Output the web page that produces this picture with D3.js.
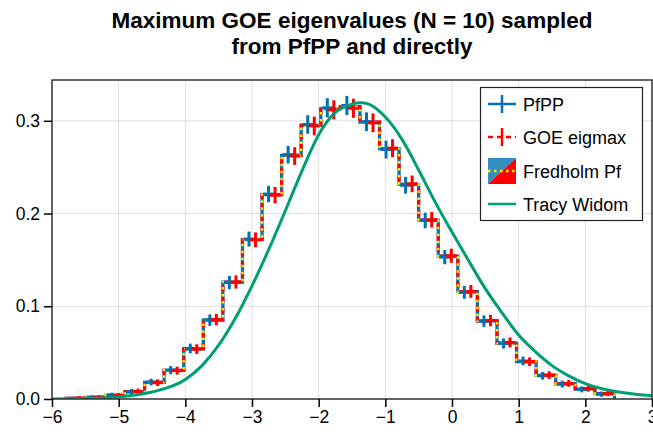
<!DOCTYPE html>
<html>
<head>
<meta charset="utf-8">
<script src="https://cdn.jsdelivr.net/npm/d3@7"></script>
<style>
  html, body { margin: 0; padding: 0; background: #fff; }
  svg { display: block; font-family: "Liberation Sans", Arial, sans-serif; }
</style>
</head>
<body>
<svg id="chart" width="653" height="438"></svg>
<script>
// ---------------- data ----------------
const titleLines = ["Maximum GOE eigenvalues (N = 10) sampled", "from PfPP and directly"];
const xTicks = [-6, -5, -4, -3, -2, -1, 0, 1, 2, 3];
const yTicks = [0.0, 0.1, 0.2, 0.3];

// histogram bin edges
const binEdges = [-5.786, -5.492, -5.199, -4.905, -4.611, -4.318, -4.024, -3.730, -3.437, -3.143,
  -2.849, -2.556, -2.262, -1.968, -1.675, -1.381, -1.087, -0.794, -0.500, -0.206,
  0.087, 0.381, 0.675, 0.968, 1.262, 1.556, 1.849, 2.143, 2.437];

// Fredholm Pfaffian (step)
const fredholm = [0.0008, 0.0018, 0.0040, 0.0080, 0.0179, 0.0310, 0.0540, 0.0853, 0.1260, 0.1720,
  0.2204, 0.2627, 0.2950, 0.3130, 0.3150, 0.2985, 0.2700, 0.2315, 0.1928, 0.1540,
  0.1157, 0.0842, 0.0602, 0.0404, 0.0254, 0.0165, 0.0108, 0.0057];

// PfPP samples
const pfpp = [0.0006, 0.0016, 0.0042, 0.0078, 0.0182, 0.0312, 0.0545, 0.0850, 0.1255, 0.1725,
  0.2210, 0.2635, 0.2960, 0.3140, 0.3165, 0.2990, 0.2690, 0.2305, 0.1925, 0.1530,
  0.1150, 0.0840, 0.0598, 0.0410, 0.0250, 0.0160, 0.0104, 0.0052];
const pfppErr = [0.0004, 0.0007, 0.0010, 0.0014, 0.0020, 0.0027, 0.0036, 0.0045, 0.0055, 0.0064,
  0.0072, 0.0079, 0.0084, 0.0087, 0.0087, 0.0085, 0.0080, 0.0074, 0.0068, 0.0060,
  0.0053, 0.0045, 0.0038, 0.0031, 0.0025, 0.0020, 0.0016, 0.0012];

// GOE eigmax direct samples
const goe = [0.0010, 0.0020, 0.0038, 0.0082, 0.0176, 0.0306, 0.0538, 0.0856, 0.1262, 0.1716,
  0.2198, 0.2620, 0.2945, 0.3118, 0.3135, 0.2978, 0.2705, 0.2320, 0.1932, 0.1545,
  0.1160, 0.0846, 0.0610, 0.0402, 0.0258, 0.0168, 0.0112, 0.0060];
const goeErr = [0.0004, 0.0007, 0.0010, 0.0014, 0.0020, 0.0027, 0.0036, 0.0045, 0.0055, 0.0064,
  0.0072, 0.0079, 0.0084, 0.0087, 0.0087, 0.0085, 0.0080, 0.0074, 0.0068, 0.0060,
  0.0053, 0.0045, 0.0038, 0.0031, 0.0025, 0.0020, 0.0016, 0.0012];

// Tracy-Widom (beta = 1) density
const twX = [-6.0, -5.5, -5.0, -4.5, -4.0, -3.75, -3.5, -3.25, -3.0, -2.75, -2.5, -2.25, -2.0, -1.75,
  -1.5, -1.375, -1.25, -1.0, -0.75, -0.5, -0.25, 0.0, 0.25, 0.5, 0.75, 1.0, 1.25, 1.5, 1.75,
  2.0, 2.25, 2.5, 2.75, 3.0];
const twY = [0.0001, 0.0005, 0.0022, 0.0075, 0.021, 0.036, 0.058, 0.087, 0.122, 0.161, 0.203, 0.246,
  0.285, 0.309, 0.318, 0.3195, 0.318, 0.304, 0.280, 0.247, 0.212, 0.180, 0.149, 0.119, 0.093,
  0.069, 0.051, 0.036, 0.025, 0.0165, 0.011, 0.0075, 0.0052, 0.0036];

const legendLabels = ["PfPP", "GOE eigmax", "Fredholm Pf", "Tracy Widom"];

// ---------------- colors ----------------
const cBlue = "#0072B2", cRed = "#FF0000", cYellow = "#FFEE00", cGreen = "#009E73";

// ---------------- layout ----------------
const svg = d3.select("#chart");
const L = 52, R = 652, T = 80, B = 399;
const x = d3.scaleLinear().domain([-6, 3]).range([L, R]);
const y = d3.scaleLinear().domain([0, 0.344]).range([B, T]);

// title
svg.selectAll("text.title").data(titleLines).join("text")
  .attr("class", "title")
  .attr("x", (L + R) / 2).attr("y", (d, i) => 28 + i * 26)
  .attr("text-anchor", "middle")
  .attr("font-size", 22.5).attr("font-weight", "bold").attr("fill", "#000")
  .text(d => d);

// grid
const grid = svg.append("g");
grid.selectAll("line.gx").data(xTicks).join("line")
  .attr("x1", d => x(d)).attr("x2", d => x(d)).attr("y1", T).attr("y2", B)
  .attr("stroke", "#000").attr("stroke-opacity", 0.12).attr("stroke-width", 1);
grid.selectAll("line.gy").data(yTicks).join("line")
  .attr("y1", d => y(d)).attr("y2", d => y(d)).attr("x1", L).attr("x2", R)
  .attr("stroke", "#000").attr("stroke-opacity", 0.12).attr("stroke-width", 1);

// clip
svg.append("clipPath").attr("id", "clip").append("rect")
  .attr("x", L).attr("y", T).attr("width", R - L).attr("height", B - T);
const plot = svg.append("g").attr("clip-path", "url(#clip)");

// step path builder
function stepPoints(vals) {
  const pts = [[binEdges[0], 0]];
  vals.forEach((v, i) => { pts.push([binEdges[i], v]); pts.push([binEdges[i + 1], v]); });
  pts.push([binEdges[binEdges.length - 1], 0]);
  return pts;
}
const stepLine = d3.line().x(d => x(d[0])).y(d => y(d[1]));

plot.append("path").attr("d", stepLine(stepPoints(fredholm)))
  .attr("fill", "none").attr("stroke", cBlue).attr("stroke-width", 3.2).attr("stroke-linejoin", "miter");
plot.append("path").attr("d", stepLine(stepPoints(fredholm)))
  .attr("fill", "none").attr("stroke", cRed).attr("stroke-width", 3.2).attr("stroke-dasharray", "6,5");
plot.append("path").attr("d", stepLine(stepPoints(fredholm)))
  .attr("fill", "none").attr("stroke", cYellow).attr("stroke-width", 2.4).attr("stroke-dasharray", "2.5,4.5");

// crosses (error bars)
function crosses(vals, errs, frac, color) {
  const g = plot.append("g");
  const data = vals.map((v, i) => ({ cx: binEdges[i] + (binEdges[i + 1] - binEdges[i]) * frac, v, e: errs[i] }));
  g.selectAll("line.v").data(data).join("line")
    .attr("x1", d => x(d.cx)).attr("x2", d => x(d.cx))
    .attr("y1", d => y(d.v - d.e) + 1.5).attr("y2", d => y(d.v + d.e) - 1.5)
    .attr("stroke", color).attr("stroke-width", 3);
  g.selectAll("line.h").data(data).join("line")
    .attr("x1", d => x(d.cx) - 5.5).attr("x2", d => x(d.cx) + 5.5)
    .attr("y1", d => y(d.v)).attr("y2", d => y(d.v))
    .attr("stroke", color).attr("stroke-width", 3);
}
crosses(pfpp, pfppErr, 1 / 3, cBlue);
crosses(goe, goeErr, 2 / 3, cRed);

// Tracy-Widom curve
const twLine = d3.line().x(d => x(d[0])).y(d => y(d[1])).curve(d3.curveMonotoneX);
plot.append("path").attr("d", twLine(twX.map((v, i) => [v, twY[i]])))
  .attr("fill", "none").attr("stroke", cGreen).attr("stroke-width", 3);

// frame
svg.append("rect").attr("x", L).attr("y", T).attr("width", R - L).attr("height", B - T)
  .attr("fill", "none").attr("stroke", "#333").attr("stroke-width", 1.5);

// axes
const xAxis = d3.axisBottom(x).tickValues(xTicks).tickSize(8).tickPadding(4).tickFormat(d3.format("d"));
const gx = svg.append("g").attr("transform", `translate(0,${B})`).call(xAxis);
gx.select(".domain").remove();
gx.selectAll("line").attr("stroke", "#000").attr("stroke-width", 1.5);
gx.selectAll("text").attr("font-size", 17.5).attr("fill", "#000").attr("font-family", "Liberation Sans, Arial, sans-serif");

const yAxis = d3.axisLeft(y).tickValues(yTicks).tickSize(8).tickPadding(4).tickFormat(d3.format(".1f"));
const gy = svg.append("g").attr("transform", `translate(${L},0)`).call(yAxis);
gy.select(".domain").remove();
gy.selectAll("line").attr("stroke", "#000").attr("stroke-width", 1.5);
gy.selectAll("text").attr("font-size", 17.5).attr("fill", "#000").attr("font-family", "Liberation Sans, Arial, sans-serif");

// legend
const lg = svg.append("g");
lg.append("rect").attr("x", 480.5).attr("y", 87.5).attr("width", 162).attr("height", 133)
  .attr("fill", "#fff").attr("stroke", "#222").attr("stroke-width", 1.2);
const ly = [104, 137, 171, 204];
const gx0 = 488, gx1 = 516, gxm = 502;
// PfPP
lg.append("line").attr("x1", gx0).attr("x2", gx1).attr("y1", ly[0]).attr("y2", ly[0]).attr("stroke", cBlue).attr("stroke-width", 2.5);
lg.append("line").attr("x1", gxm).attr("x2", gxm).attr("y1", ly[0] - 9).attr("y2", ly[0] + 9).attr("stroke", cBlue).attr("stroke-width", 2.5);
// GOE
lg.append("line").attr("x1", gx0).attr("x2", gx1).attr("y1", ly[1]).attr("y2", ly[1]).attr("stroke", cRed).attr("stroke-width", 2.5).attr("stroke-dasharray", "5,4");
lg.append("line").attr("x1", gxm).attr("x2", gxm).attr("y1", ly[1] - 9).attr("y2", ly[1] + 9).attr("stroke", cRed).attr("stroke-width", 2.5);
// Fredholm
lg.append("path").attr("d", `M${gx0},${ly[2] - 13}L${gx1},${ly[2] - 13}L${gx0},${ly[2] + 13}Z`).attr("fill", "#338EC1");
lg.append("path").attr("d", `M${gx1},${ly[2] - 13}L${gx1},${ly[2] + 13}L${gx0},${ly[2] + 13}Z`).attr("fill", cRed);
lg.append("line").attr("x1", gx0).attr("x2", gx1).attr("y1", ly[2]).attr("y2", ly[2]).attr("stroke", cYellow).attr("stroke-width", 2.5).attr("stroke-dasharray", "2.5,3.5");
// Tracy Widom
lg.append("line").attr("x1", gx0).attr("x2", gx1).attr("y1", ly[3]).attr("y2", ly[3]).attr("stroke", cGreen).attr("stroke-width", 2.5);

lg.selectAll("text").data(legendLabels).join("text")
  .attr("x", 523).attr("y", (d, i) => ly[i] + 6.5)
  .attr("font-size", 18).attr("fill", "#000")
  .text(d => d);
</script>
</body>
</html>
